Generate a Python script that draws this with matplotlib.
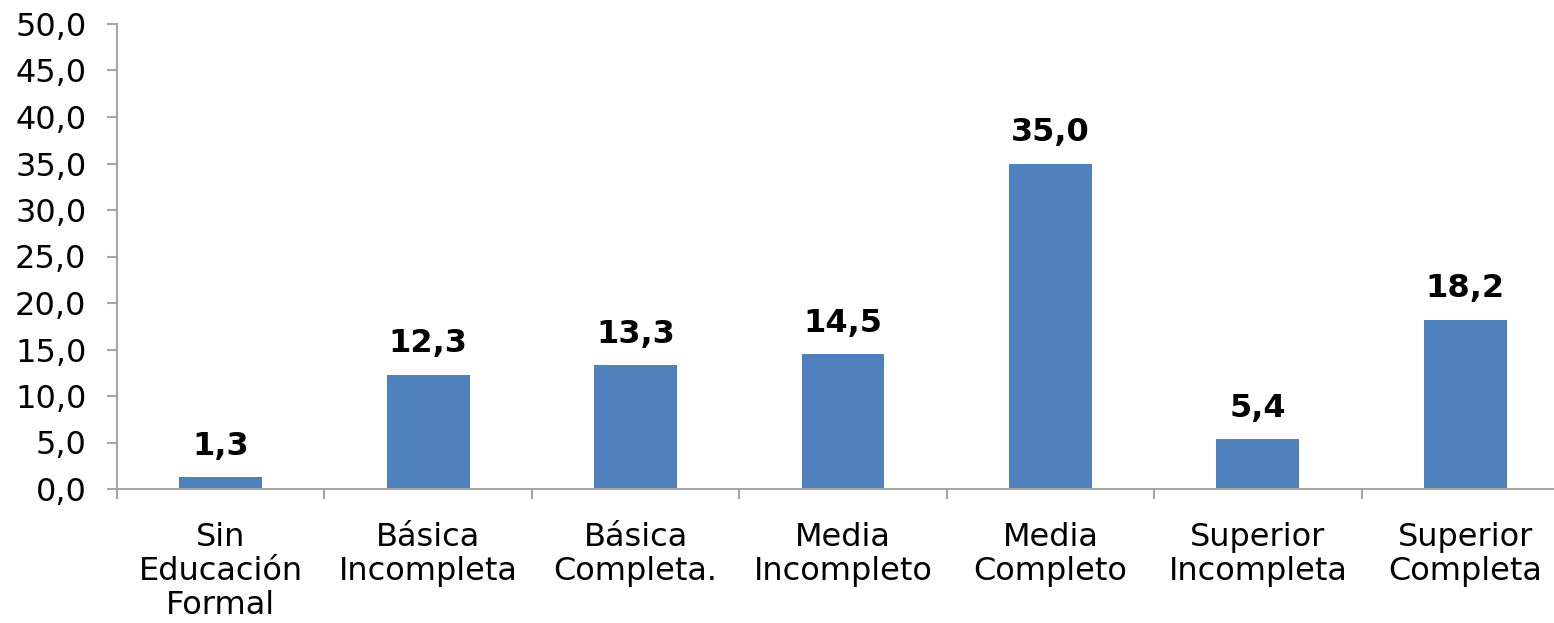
import matplotlib.pyplot as plt
import numpy as np

categories = ["Sin\nEducación\nFormal", "Básica\nIncompleta", "Básica\nCompleta.",
              "Media\nIncompleto", "Media\nCompleto", "Superior\nIncompleta",
              "Superior\nCompleta"]
values = [1.3, 12.3, 13.3, 14.5, 35.0, 5.4, 18.2]
yticks = np.arange(0, 51, 5)

plt.rcParams['font.family'] = ['DejaVu Sans']

fig = plt.figure(figsize=(15.54, 6.23), dpi=100)
ax = fig.add_axes([117 / 1554, 1 - 489 / 623, 1452 / 1554, 465 / 623])

x = np.arange(len(values))
ax.bar(x, values, width=0.4, color='#4F81BD', zorder=2)

for xi, v in zip(x, values):
    ax.annotate(f"{v:.1f}".replace('.', ','), (xi, v), xytext=(0, 11),
                textcoords='offset points', ha='center', va='bottom',
                fontsize=23, fontweight='bold', color='black')

ax.set_xlim(-0.5, len(values) - 0.5)
ax.set_ylim(0, 50)
ax.set_yticks(yticks)
ax.set_yticklabels([f"{t:.1f}".replace('.', ',') for t in yticks], fontsize=23)

ax.set_xticks(x)
ax.set_xticklabels(categories, fontsize=23, linespacing=1.12)
ax.tick_params(axis='x', length=0, pad=24)
ax.set_xticks(np.arange(-0.5, len(values)), minor=True)
ax.tick_params(axis='x', which='minor', length=7, color='#A6A6A6', width=1.5)
ax.tick_params(axis='y', length=7, color='#A6A6A6', width=1.5, pad=15)

for s in ['top', 'right']:
    ax.spines[s].set_visible(False)
for s in ['left', 'bottom']:
    ax.spines[s].set_color('#A6A6A6')
    ax.spines[s].set_linewidth(1.5)

fig.savefig('out.png', dpi=100)
